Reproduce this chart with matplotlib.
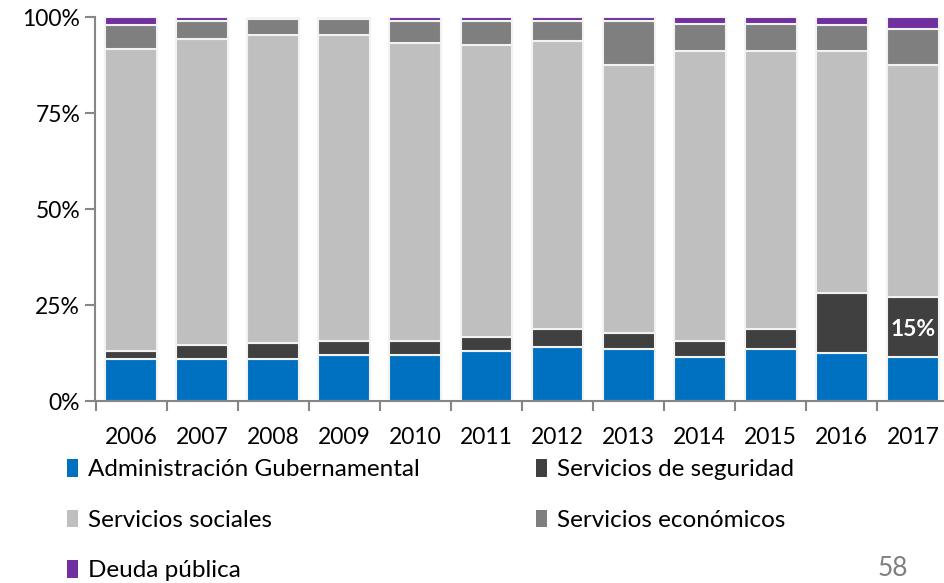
import numpy as np
import matplotlib.pyplot as plt
from matplotlib.patches import Patch

plt.rcParams['font.family'] = ['Lato', 'DejaVu Sans']

years = ['2006', '2007', '2008', '2009', '2010', '2011',
         '2012', '2013', '2014', '2015', '2016', '2017']

# participación (%) por finalidad
admin = [11.0, 11.0, 11.0, 12.1, 12.1, 13.1, 14.1, 13.6, 11.5, 13.6, 12.6, 11.5]
seguridad = [2.1, 3.7, 4.2, 3.6, 3.6, 3.6, 4.7, 4.2, 4.2, 5.2, 15.6, 15.7]
sociales = [78.5, 79.5, 80.0, 79.5, 77.4, 75.9, 74.9, 69.6, 75.4, 72.3, 62.9, 60.2]
economicos = [6.2, 4.7, 4.2, 4.2, 5.8, 6.3, 5.2, 11.5, 7.2, 7.2, 6.7, 9.4]
deuda = [2.2, 1.1, 0.6, 0.6, 1.1, 1.1, 1.1, 1.1, 1.7, 1.7, 2.2, 3.2]

series = [
    ('Administración Gubernamental', admin, '#0070C0'),
    ('Servicios de seguridad', seguridad, '#404040'),
    ('Servicios sociales', sociales, '#BFBFBF'),
    ('Servicios económicos', economicos, '#7F7F7F'),
    ('Deuda pública', deuda, '#7030A0'),
]

fig = plt.figure(figsize=(9.45, 5.83), dpi=100)
ax = fig.add_axes([95.5 / 945, 1 - 401 / 583, 853 / 945, 384 / 583])

x = np.arange(len(years))
bottom = np.zeros(len(years))
handles = {}
for name, vals, color in series:
    vals = np.array(vals)
    ax.bar(x, vals, 0.73, bottom=bottom, color=color,
           edgecolor='#F2F2F2', linewidth=1.5)
    bottom += vals
    handles[name] = Patch(facecolor=color, edgecolor='none')

# etiqueta de seguridad 2017
ax.text(x[-1], admin[-1] + seguridad[-1] / 2 - 0.8, '15%', color='white',
        fontsize=16.5, fontweight='bold', ha='center', va='center')

ax.set_xlim(-0.5, len(years) - 0.5)
ax.set_ylim(0, 100)
ax.set_yticks([0, 25, 50, 75, 100])
ax.set_yticklabels(['0%', '25%', '50%', '75%', '100%'])
ax.set_xticks(x)
ax.set_xticklabels(years)
ax.set_xticks(np.arange(-0.5, len(years) - 0.4, 1), minor=True)
ax.tick_params(axis='x', which='major', length=0, pad=19, labelsize=16.5)
ax.tick_params(axis='x', which='minor', length=7, color='#868686', width=1.5)
ax.tick_params(axis='y', length=7, color='#868686', width=1.5, labelsize=16.5, pad=4)

for s in ['top', 'right']:
    ax.spines[s].set_visible(False)
for s in ['left', 'bottom']:
    ax.spines[s].set_color('#868686')
    ax.spines[s].set_linewidth(1.5)

order = ['Administración Gubernamental', 'Servicios sociales', 'Deuda pública',
         'Servicios de seguridad', 'Servicios económicos']
fig.legend([handles[n] for n in order], order, loc='upper left',
           bbox_to_anchor=(67 / 945, 1 - 459 / 583), ncol=2, frameon=False,
           fontsize=17.5, handlelength=0.45, handleheight=0.75, handletextpad=0.4,
           labelspacing=1.2, columnspacing=4.8, borderaxespad=0, borderpad=0)

fig.text(878 / 945, 1 - 568 / 583, '58', fontsize=19, color='#7F7F7F',
         ha='left', va='center')

fig.savefig('out.png', dpi=100)
